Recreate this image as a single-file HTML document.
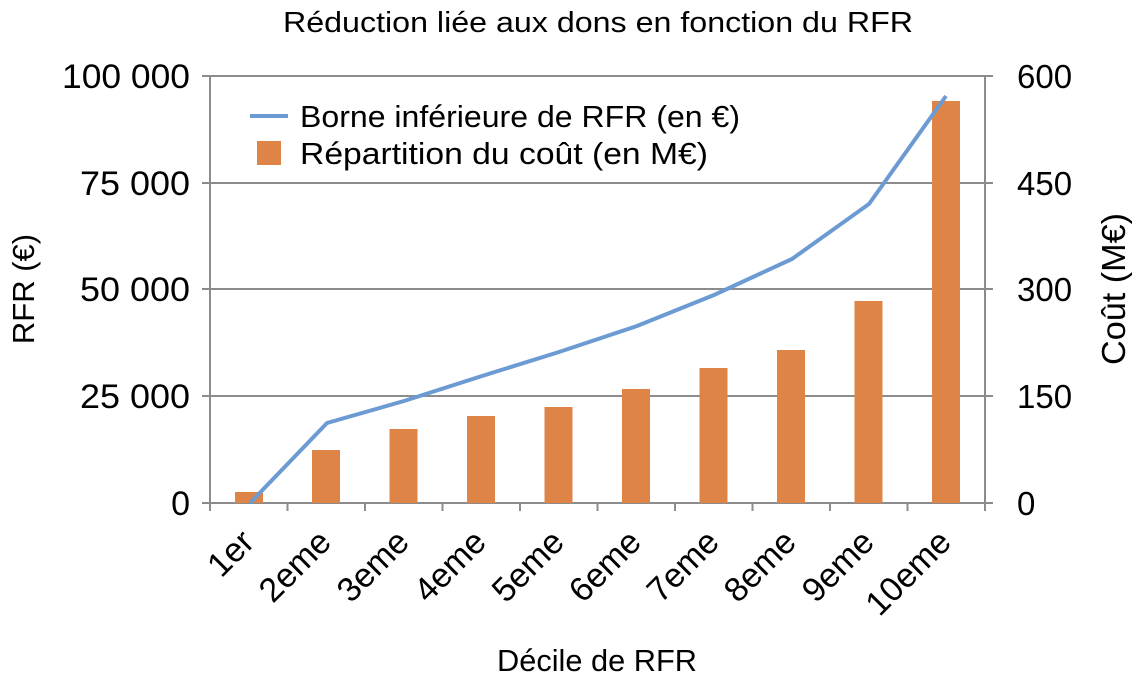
<!DOCTYPE html>
<html><head><style>body{margin:0;background:#fff}svg{display:block}text{font-family:"Liberation Sans",sans-serif;fill:#000}</style></head><body>
<svg width="1132" height="680" viewBox="0 0 1132 680">
<text x="598" y="32" font-size="29" text-anchor="middle" textLength="630" lengthAdjust="spacingAndGlyphs">Réduction liée aux dons en fonction du RFR</text>
<g stroke="#8c8c8c" stroke-width="2">
<line x1="210" y1="76" x2="985" y2="76"/><line x1="210" y1="183" x2="985" y2="183"/><line x1="210" y1="289" x2="985" y2="289"/><line x1="210" y1="396" x2="985" y2="396"/><line x1="210" y1="503" x2="985" y2="503"/>
<line x1="210" y1="76" x2="210" y2="503"/><line x1="985" y1="76" x2="985" y2="503"/>
<line x1="202" y1="76" x2="210" y2="76"/><line x1="202" y1="183" x2="210" y2="183"/><line x1="202" y1="289" x2="210" y2="289"/><line x1="202" y1="396" x2="210" y2="396"/><line x1="202" y1="503" x2="210" y2="503"/>
<line x1="985" y1="76" x2="993" y2="76"/><line x1="985" y1="183" x2="993" y2="183"/><line x1="985" y1="289" x2="993" y2="289"/><line x1="985" y1="396" x2="993" y2="396"/><line x1="985" y1="503" x2="993" y2="503"/>
<line x1="210" y1="503" x2="210" y2="511"/><line x1="287.5" y1="503" x2="287.5" y2="511"/><line x1="365" y1="503" x2="365" y2="511"/><line x1="442.5" y1="503" x2="442.5" y2="511"/><line x1="520" y1="503" x2="520" y2="511"/><line x1="597.5" y1="503" x2="597.5" y2="511"/><line x1="675" y1="503" x2="675" y2="511"/><line x1="752.5" y1="503" x2="752.5" y2="511"/><line x1="830" y1="503" x2="830" y2="511"/><line x1="907.5" y1="503" x2="907.5" y2="511"/><line x1="985" y1="503" x2="985" y2="511"/>
</g>
<g fill="#dd8446">
<rect x="235" y="492" width="28" height="11"/><rect x="312" y="450" width="28" height="53"/><rect x="389.5" y="429" width="28" height="74"/><rect x="467" y="416" width="28" height="87"/><rect x="544.5" y="407" width="28" height="96"/><rect x="622" y="389" width="28" height="114"/><rect x="699.5" y="368" width="28" height="135"/><rect x="777" y="350" width="28" height="153"/><rect x="854.5" y="301" width="28" height="202"/><rect x="932" y="101" width="28" height="402"/>
</g>
<polyline fill="none" stroke="#6b9bd2" stroke-width="4" points="250,503 327,423 404,401 482,376 559,352 637,326 714,295 792,259 869,204 946,96"/>
<g font-size="34" text-anchor="end">
<text x="190" y="88" textLength="128" lengthAdjust="spacingAndGlyphs">100 000</text><text x="190" y="195" textLength="110" lengthAdjust="spacingAndGlyphs">75 000</text><text x="190" y="301" textLength="110" lengthAdjust="spacingAndGlyphs">50 000</text><text x="190" y="408" textLength="110" lengthAdjust="spacingAndGlyphs">25 000</text><text x="190" y="515">0</text>
</g>
<g font-size="33" text-anchor="start">
<text x="1017" y="88">600</text><text x="1017" y="195">450</text><text x="1017" y="301">300</text><text x="1017" y="408">150</text><text x="1017" y="515">0</text>
</g>
<g font-size="34" text-anchor="end">
<text transform="translate(256,544) rotate(-45)">1er</text>
<text transform="translate(333,544) rotate(-45)">2eme</text>
<text transform="translate(411,544) rotate(-45)">3eme</text>
<text transform="translate(488,544) rotate(-45)">4eme</text>
<text transform="translate(566,544) rotate(-45)">5eme</text>
<text transform="translate(643,544) rotate(-45)">6eme</text>
<text transform="translate(721,544) rotate(-45)">7eme</text>
<text transform="translate(798,544) rotate(-45)">8eme</text>
<text transform="translate(876,544) rotate(-45)">9eme</text>
<text transform="translate(953,544) rotate(-45)">10eme</text>
</g>
<text x="597" y="671" font-size="31" text-anchor="middle" textLength="200" lengthAdjust="spacingAndGlyphs">Décile de RFR</text>
<text transform="translate(34,289) rotate(-90)" font-size="31" text-anchor="middle">RFR (€)</text>
<text transform="translate(1125,289) rotate(-90)" font-size="33" text-anchor="middle" textLength="152" lengthAdjust="spacingAndGlyphs">Coût (M€)</text>
<line x1="250" y1="116" x2="288" y2="116" stroke="#6b9bd2" stroke-width="4"/>
<text x="300" y="127" font-size="31" textLength="440" lengthAdjust="spacingAndGlyphs">Borne inférieure de RFR (en €)</text>
<rect x="257" y="141" width="24" height="24" fill="#dd8446"/>
<text x="300" y="164" font-size="31" textLength="408" lengthAdjust="spacingAndGlyphs">Répartition du coût (en M€)</text>
</svg>
</body></html>
